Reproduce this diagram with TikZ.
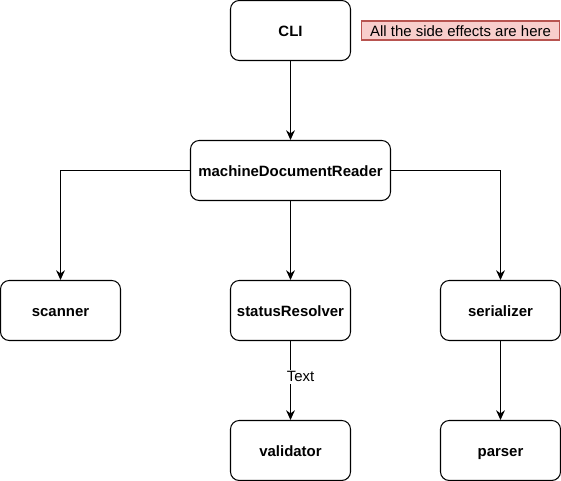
\documentclass[tikz,border=0pt]{standalone}
\usepackage{fontspec}
\setmainfont{Liberation Sans}
\usetikzlibrary{arrows.meta,positioning}
\definecolor{notefill}{HTML}{F8CECC}
\definecolor{notedraw}{HTML}{B85450}
\tikzset{
  module/.style={
    rectangle, rounded corners=5pt,
    draw=black, line width=0.6pt,
    fill=white, text=black,
    font=\bfseries\fontsize{8.5}{10}\selectfont,
    minimum height=1.2cm, minimum width=2.4cm,
    text height=0.68em, text depth=0pt,
    inner sep=0pt, align=center
  },
  note/.style={
    rectangle, draw=notedraw, line width=0.6pt,
    fill=notefill, font=\fontsize{8.5}{10}\selectfont,
    minimum width=3.96cm, minimum height=0.38cm,
    text height=0.68em, text depth=0pt,
    inner sep=0pt, align=center
  },
  arr/.style={-{Stealth[length=5.5pt,width=5pt]}, line width=0.6pt},
  edgelabel/.style={
    font=\fontsize{8.5}{10}\selectfont, fill=white, inner sep=1pt
  },
}

\begin{document}
\begin{tikzpicture}

  \useasboundingbox (0,0) rectangle (11.22,-9.62);

  % ── Column / row positions ───────────────────────────────────────────────────
  \def\colA{1.21}     % scanner
  \def\colB{5.81}     % CLI, reader, resolver, validator
  \def\colC{10.01}    % serializer, parser
  \def\rowA{-0.61}
  \def\rowB{-3.41}
  \def\rowC{-6.21}
  \def\rowD{-9.01}

  % ── Modules ──────────────────────────────────────────────────────────────────
  \node[module] (cli) at (\colB, \rowA) {CLI};
  \node[note]   (side) at (9.21, \rowA) {All the side effects are here};

  \node[module, minimum width=4cm] (reader) at (\colB, \rowB)
    {machineDocumentReader};

  \node[module] (scanner)  at (\colA, \rowC) {scanner};
  \node[module] (resolver) at (\colB, \rowC) {statusResolver};
  \node[module] (serial)   at (\colC, \rowC) {serializer};

  \node[module] (valid)  at (\colB, \rowD) {validator};
  \node[module] (parser) at (\colC, \rowD) {parser};

  % ── Connectors ───────────────────────────────────────────────────────────────
  \draw[arr] (cli) -- (reader);
  \draw[arr] (reader.west) -| (scanner.north);
  \draw[arr] (reader) -- (resolver);
  \draw[arr] (reader.east) -| (serial.north);

  \draw[arr] (resolver) -- node[edgelabel, pos=0.45, xshift=0.2cm]{Text} (valid);
  \draw[arr] (serial) -- (parser);

\end{tikzpicture}
\end{document}
